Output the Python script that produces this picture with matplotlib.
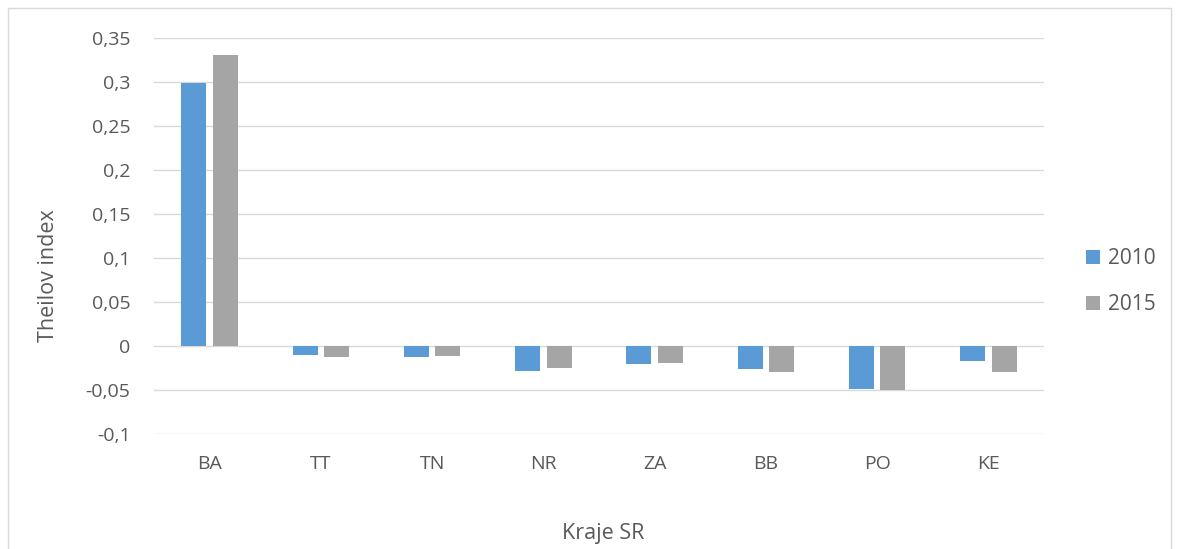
import matplotlib.pyplot as plt
import numpy as np
from matplotlib.patches import Rectangle

plt.rcParams['font.family'] = ['Open Sans', 'DejaVu Sans']

regions = ['BA', 'TT', 'TN', 'NR', 'ZA', 'BB', 'PO', 'KE']
theil_2010 = [0.299, -0.010, -0.012, -0.028, -0.021, -0.026, -0.049, -0.017]
theil_2015 = [0.331, -0.012, -0.011, -0.025, -0.019, -0.029, -0.050, -0.029]
yticks = [-0.1, -0.05, 0, 0.05, 0.1, 0.15, 0.2, 0.25, 0.3, 0.35]
ytick_labels = ['-0,1', '-0,05', '0', '0,05', '0,1', '0,15', '0,2', '0,25', '0,3', '0,35']

blue = '#5B9BD5'
gray = '#A5A5A5'
text_col = '#595959'

W, H = 1179, 549
fig = plt.figure(figsize=(W / 100, H / 100), dpi=100)
ax = fig.add_axes([154 / W, 1 - 434 / H, (1044 - 154) / W, (434 - 38) / H])

# chart frame
fig.patches.append(Rectangle((8 / W, -0.01), 1163 / W, 1 - 8 / H + 0.01,
                             transform=fig.transFigure, fill=False,
                             edgecolor='#D9D9D9', linewidth=1.0))

x = np.arange(len(regions))
w = 0.225
gap = 0.058
ax.bar(x - (w + gap) / 2, theil_2010, width=w, color=blue, label='2010', zorder=3)
ax.bar(x + (w + gap) / 2, theil_2015, width=w, color=gray, label='2015', zorder=3)

ax.set_xlim(-0.5, len(regions) - 0.5)
ax.set_ylim(-0.1, 0.35)
ax.set_yticks(yticks)
ax.set_yticklabels(ytick_labels)
ax.set_xticks(x)
ax.set_xticklabels(regions)
ax.tick_params(length=0, labelsize=14, colors=text_col)
ax.tick_params(axis='x', pad=15)
ax.tick_params(axis='y', pad=17)

ax.grid(axis='y', color='#D9D9D9', linewidth=1.0, zorder=0)
for s in ax.spines.values():
    s.set_visible(False)

fig.text(48 / W, 1 - 276 / H, 'Theilov index', fontsize=15.5, color=text_col,
         rotation=90, ha='center', va='center')
fig.text(603 / W, 1 - 534 / H, 'Kraje SR', fontsize=15.5, color=text_col,
         ha='center', va='center')

fig.legend(loc='center left', bbox_to_anchor=(1078 / W, 1 - 282 / H), frameon=False,
           fontsize=15, labelcolor=text_col, handlelength=0.65, handleheight=0.65,
           handletextpad=0.4, labelspacing=1.2, borderaxespad=0)

plt.savefig('out.png', dpi=100)
